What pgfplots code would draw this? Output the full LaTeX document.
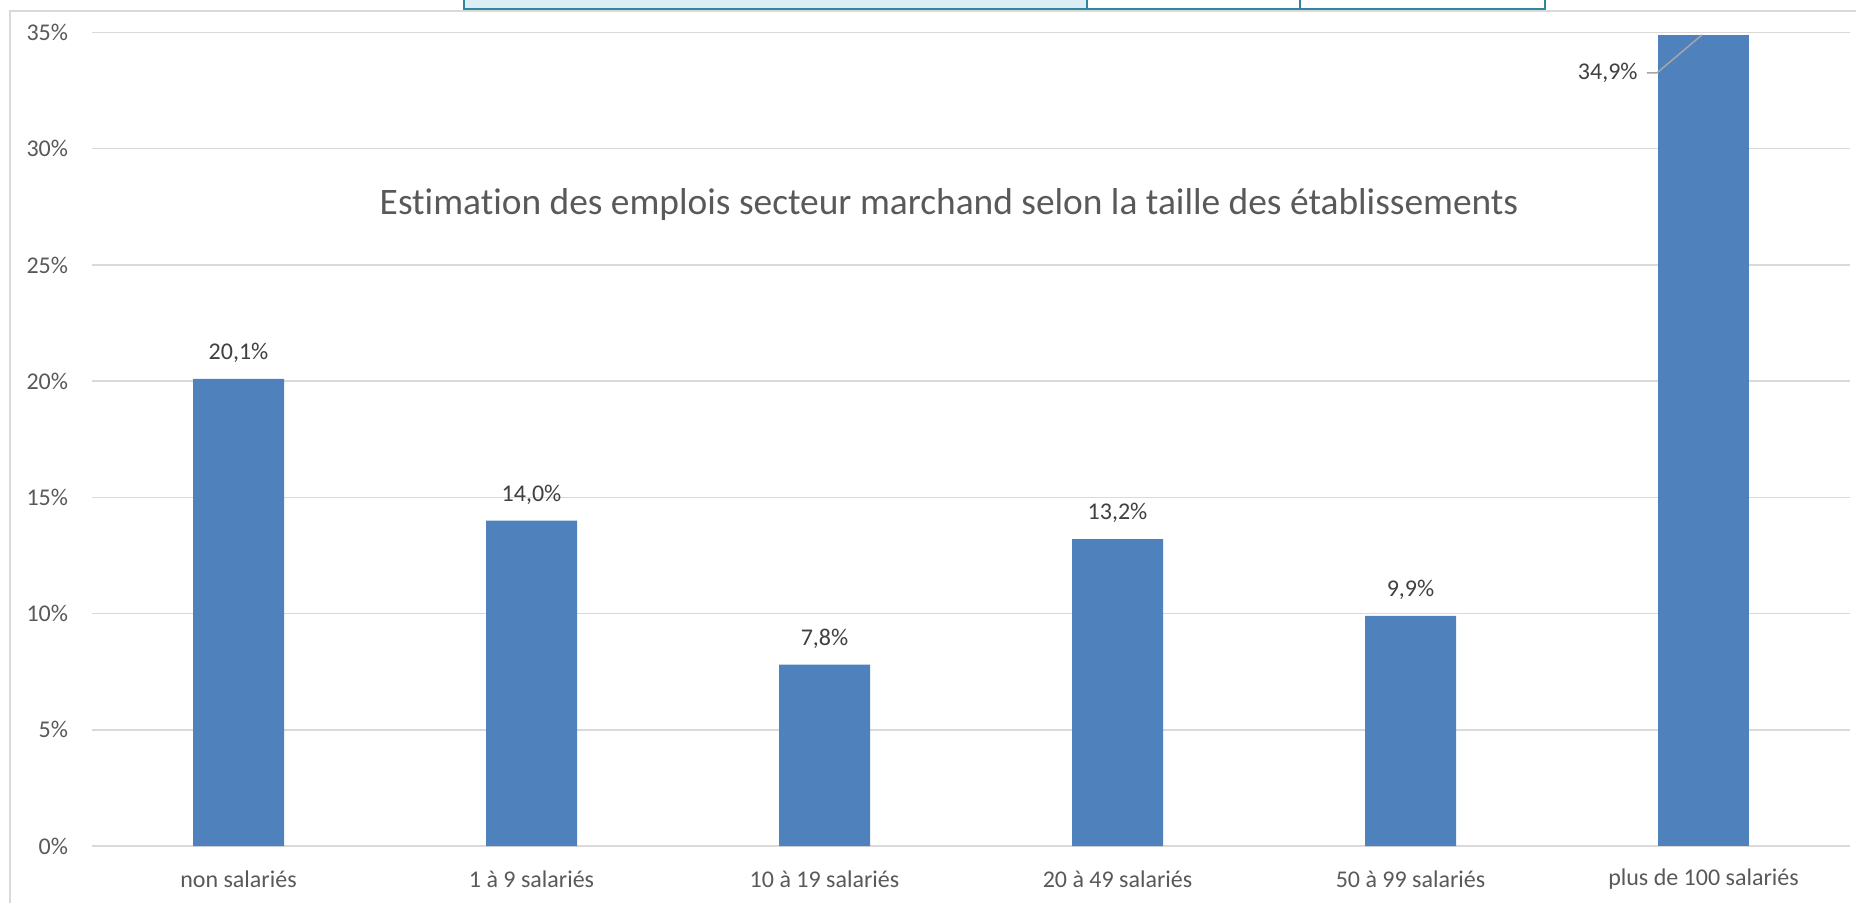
\documentclass[border=0pt]{standalone}
\usepackage{fontspec}
\setmainfont{Carlito}[Ligatures=NoCommon]
\usepackage{pgfplots}
\pgfplotsset{compat=1.18}
\definecolor{barblue}{HTML}{4F81BD}
\definecolor{gridgray}{HTML}{D9D9D9}
\definecolor{ticktext}{HTML}{595959}
\definecolor{labeltext}{HTML}{404040}
\definecolor{boxteal}{HTML}{31859C}
\definecolor{boxfill}{HTML}{DAEEF3}
\definecolor{leader}{HTML}{A6A6A6}
\begin{document}
\begin{tikzpicture}
\begin{axis}[
  scale only axis, width=879pt, height=406.75pt,
  ybar, bar width=45.5pt,
  xmin=-0.5, xmax=5.5, ymin=0, ymax=35,
  enlargelimits=false,
  axis line style={draw=none},
  ymajorgrids, grid style={gridgray, line width=0.75pt},
  major tick length=0pt,
  xtick={0,1,2,3,4,5},
  xticklabels={non salariés, 1 à 9 salariés, 10 à 19 salariés, 20 à 49 salariés, 50 à 99 salariés, plus de 100 salariés},
  ytick={0,5,...,35},
  /pgf/number format/assume math mode=true,
  yticklabel={\pgfmathprintnumber{\tick}\%},
  ticklabel style={font=\fontsize{12}{14}\selectfont, text=ticktext, inner sep=0pt},
  xticklabel style={anchor=center, yshift=-16.75pt},
  yticklabel style={anchor=east, xshift=-11.8pt},
  nodes near coords={\pgfmathprintnumber[fixed,fixed zerofill,precision=1,use comma]{\pgfplotspointmeta}\%},
  every node near coord/.append style={font=\fontsize{12}{14}\selectfont, text=labeltext, inner sep=0pt},
]
\addplot[fill=barblue, draw=none, bar shift=0pt,
  every node near coord/.append style={anchor=center, yshift=13pt}]
  coordinates {(0,20.1) (1,14.0) (2,7.8) (3,13.2) (4,9.9)};
\addplot[fill=barblue, draw=none, bar shift=0pt,
  every node near coord/.append style={anchor=east, xshift=-32.75pt, yshift=-19.1pt}]
  coordinates {(5,34.9)};
\draw[leader, line width=0.75pt] (axis cs:4.807,33.26) -- (axis cs:4.841,33.26) -- (axis cs:4.995,34.9);
\coordinate (O) at (rel axis cs:0,0);
\end{axis}
\pgfresetboundingbox
\begin{scope}[shift={(O)}, xshift=-46pt, yshift=-28pt, x=1pt, y=1pt]
\useasboundingbox (0,0) rectangle (928,451);
% top boxes
\fill[boxfill] (232,446.35) rectangle (543.5,452);
\draw[boxteal, line width=1.2pt] (232,452) -- (232,446.35) -- (772.5,446.35) -- (772.5,452);
\draw[boxteal, line width=1pt] (543.5,446.35) -- (543.5,452);
\draw[boxteal, line width=1pt] (650,446.35) -- (650,452);
% chart border
\draw[gridgray, line width=1pt] (5,-2) -- (5,445.65) -- (930,445.65);
% title
\node[text=ticktext, font=\fontsize{18.7}{22}\selectfont] at (474.5,348.5) {Estimation des emplois secteur marchand selon la taille des établissements};
\end{scope}
\end{tikzpicture}
\end{document}
